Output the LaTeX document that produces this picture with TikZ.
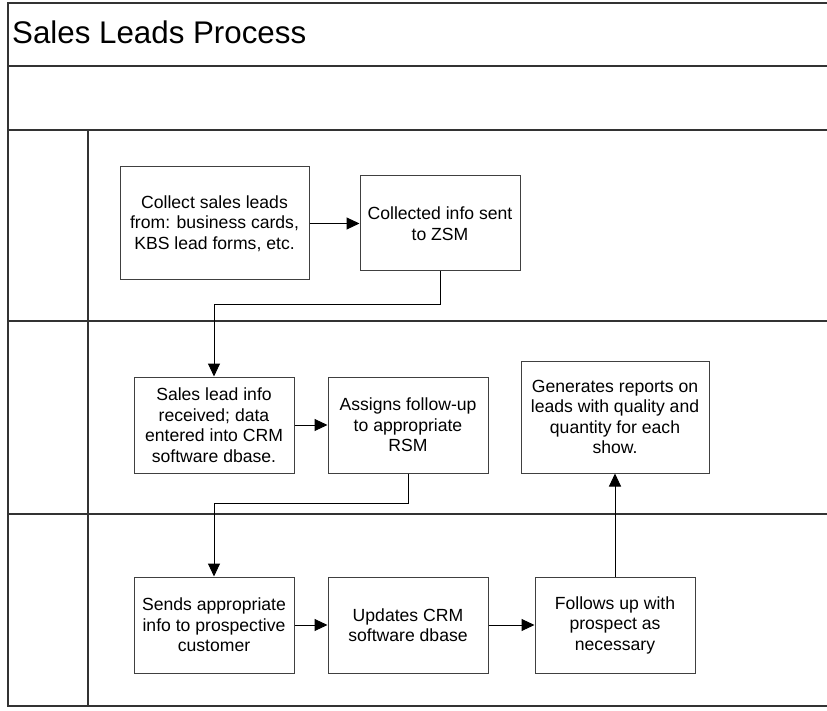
\documentclass[tikz,border=0pt]{standalone}
\usepackage{fontspec}
\setmainfont{Liberation Sans}
\usetikzlibrary{arrows.meta}
\begin{document}
\begin{tikzpicture}[x=1pt,y=-1pt,
  frame/.style={draw=black!80,line width=1.6pt},
  procbox/.style={draw=black!75,line width=1pt,rectangle,inner sep=0pt,
    align=center,font=\fontsize{17.6}{20.5}\selectfont},
  conn/.style={draw=black,line width=1pt,arrows={-Triangle[length=13pt,width=12pt]}}]
\useasboundingbox (0,0) rectangle (827,711);
% frame
\draw[frame] (827,3) -- (8,3) -- (8,706) -- (827,706);
\draw[frame] (8,66) -- (827,66);
\draw[frame] (8,130) -- (827,130);
\draw[frame] (8,321) -- (827,321);
\draw[frame] (8,514) -- (827,514);
\draw[frame,line width=1.2pt] (88,130) -- (88,706);
\node[anchor=base west,inner sep=0pt,font=\fontsize{31.3}{36}\selectfont] (title) at (12,44) {Sales Leads Process};
% boxes
\node[procbox,minimum width=189,minimum height=113] (b1) at (214.5,223.5) {Collect sales leads\\from: business cards,\\KBS lead forms, etc.};
\node[procbox,minimum width=160,minimum height=95] (b2) at (440,223.5) {Collected info sent\\to ZSM};
\node[procbox,minimum width=160,minimum height=96] (b3) at (214,425) {Sales lead info\\received; data\\entered into CRM\\software dbase.};
\node[procbox,minimum width=160,minimum height=96] (b4) at (408,425) {Assigns follow-up\\to appropriate\\RSM};
\node[procbox,minimum width=188,minimum height=112] (b8) at (615,417) {Generates reports on\\leads with quality and\\quantity for each\\show.};
\node[procbox,minimum width=160,minimum height=96] (b5) at (214,625) {Sends appropriate\\info to prospective\\customer};
\node[procbox,minimum width=160,minimum height=96] (b6) at (408,625) {Updates CRM\\software dbase};
\node[procbox,minimum width=160,minimum height=96] (b7) at (615,625) {Follows up with\\prospect as\\necessary};
% connectors
\draw[conn] (b1) -- (b2);
\draw[conn] (b2.south) -- ++(0,33) -| (b3.north);
\draw[conn] (b3) -- (b4);
\draw[conn] (b4.south) -- ++(0,30) -| (b5.north);
\draw[conn] (b5) -- (b6);
\draw[conn] (b6) -- (b7);
\draw[conn] (b7) -- (b8);
\end{tikzpicture}
\end{document}
